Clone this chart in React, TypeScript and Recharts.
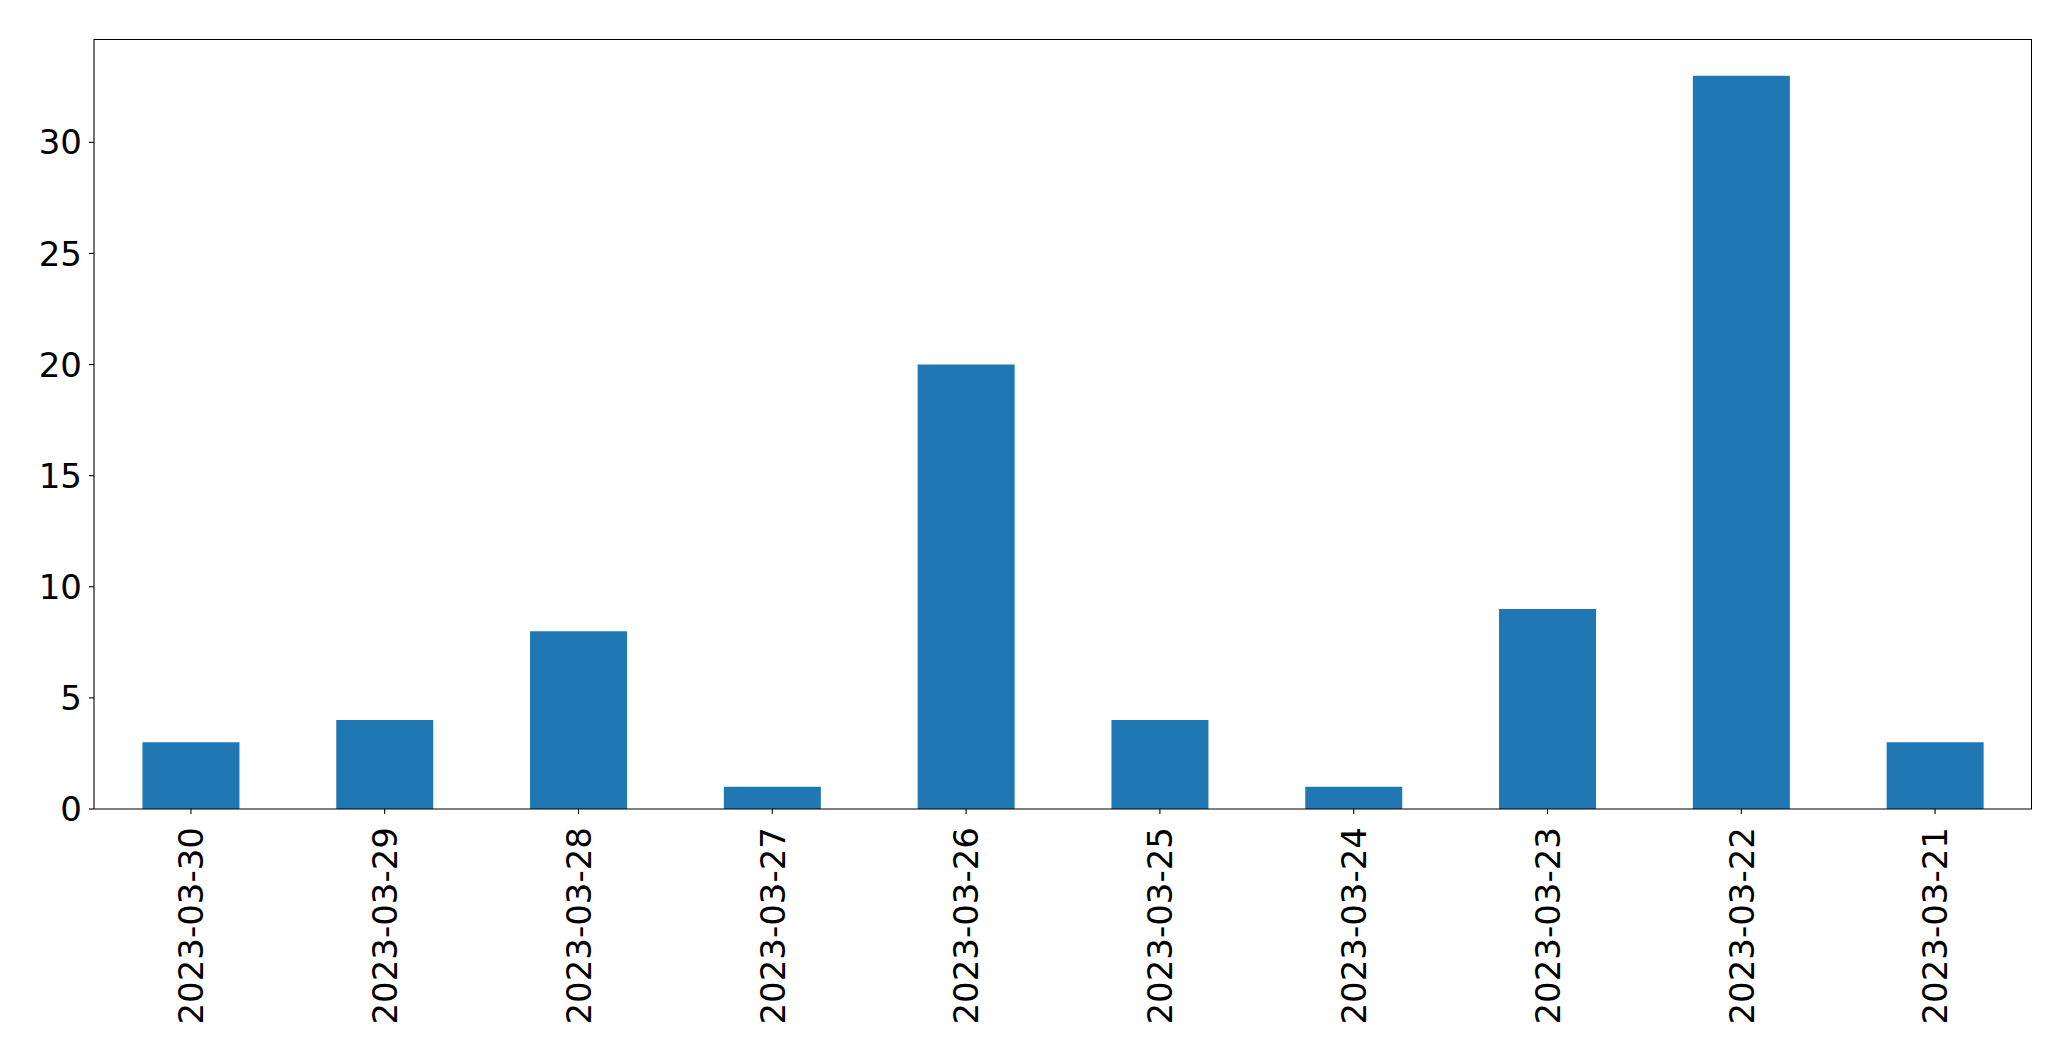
import { BarChart, Bar, XAxis, YAxis } from "recharts";

const dates = [
  "2023-03-30",
  "2023-03-29",
  "2023-03-28",
  "2023-03-27",
  "2023-03-26",
  "2023-03-25",
  "2023-03-24",
  "2023-03-23",
  "2023-03-22",
  "2023-03-21",
];
const counts = [3, 4, 8, 1, 20, 4, 1, 9, 33, 3];
const yTicks = [0, 5, 10, 15, 20, 25, 30];

const data = dates.map((d, i) => ({ date: d, count: counts[i] }));

const FONT = "'DejaVu Sans', sans-serif";
const FS = 34;

function DateTick(props: any) {
  const { x, y, payload } = props;
  return (
    <g transform={`translate(${x},${y + 11}) rotate(-90)`}>
      <text
        x={0}
        y={0}
        dy={12.3}
        textAnchor="end"
        fontFamily={FONT}
        fontSize={FS}
        fill="#000"
      >
        {payload.value}
      </text>
    </g>
  );
}

// plot frame (matplotlib-style box)
const plot = { left: 94, top: 39, right: 39, width: 1938, height: 770 };

export default function App() {
  return (
    <div style={{ position: "absolute", left: 0, top: 0, background: "#fff" }}>
      <BarChart
        width={2071}
        height={1061}
        data={data}
        margin={{ top: plot.top, right: plot.right, bottom: 0, left: 0 }}
        barCategoryGap="25%"
      >
        <XAxis
          dataKey="date"
          height={252}
          interval={0}
          tick={<DateTick />}
          tickSize={5}
          stroke="#000"
          tickLine={{ stroke: "#000", strokeWidth: 1.1 }}
          axisLine={{ stroke: "#000", strokeWidth: 1.1 }}
        />
        <YAxis
          width={plot.left}
          domain={[0, 34.65]}
          ticks={yTicks}
          tickSize={5}
          tickMargin={7}
          stroke="#000"
          tick={{ fontFamily: FONT, fontSize: FS, fill: "#000" }}
          tickLine={{ stroke: "#000", strokeWidth: 1.1 }}
          axisLine={{ stroke: "#000", strokeWidth: 1.1 }}
        />
        <Bar dataKey="count" fill="#1f77b4" isAnimationActive={false} />
      </BarChart>
      <div
        style={{
          position: "absolute",
          left: plot.left,
          top: plot.top,
          width: plot.width,
          height: plot.height,
          borderTop: "1px solid #000",
          borderRight: "1px solid #000",
          boxSizing: "border-box",
          pointerEvents: "none",
        }}
      />
    </div>
  );
}
